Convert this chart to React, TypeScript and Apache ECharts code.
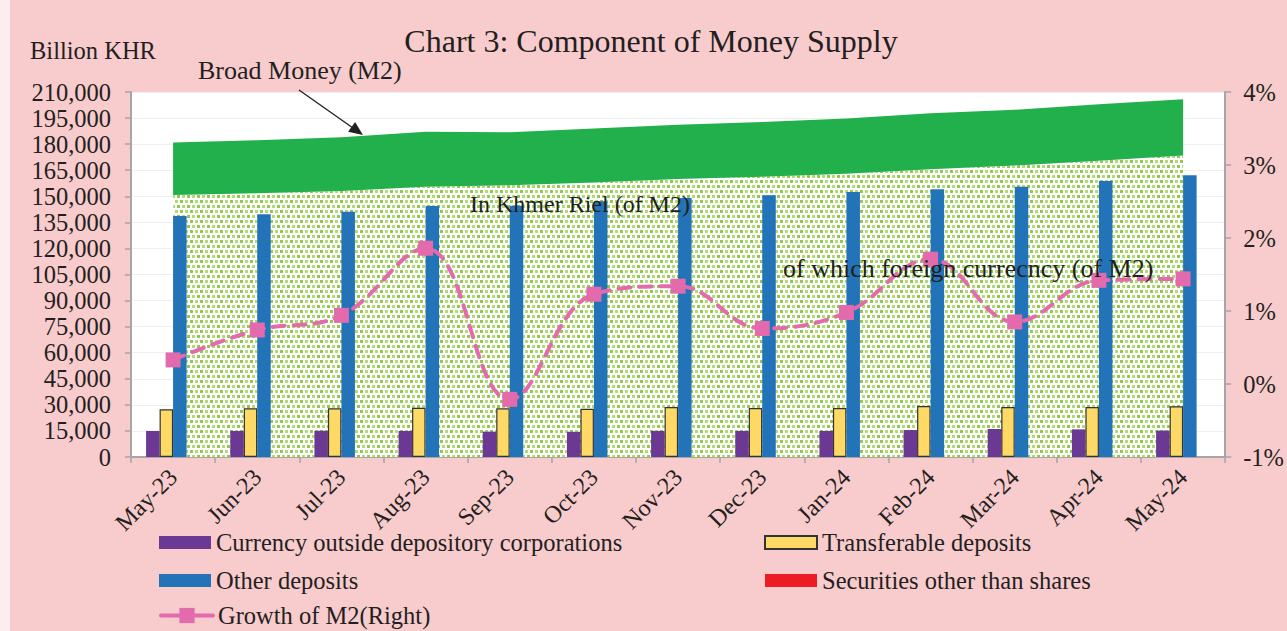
import React, { useEffect, useRef } from 'react';
import * as echarts from 'echarts';

const categories = ['May-23', 'Jun-23', 'Jul-23', 'Aug-23', 'Sep-23', 'Oct-23', 'Nov-23', 'Dec-23', 'Jan-24', 'Feb-24', 'Mar-24', 'Apr-24', 'May-24'];
const broadMoney = [181000, 182300, 184000, 187200, 186800, 189000, 191200, 192800, 194800, 197800, 199800, 203000, 205900];
const foreignCurrency = [150700, 151700, 153000, 155500, 156300, 158000, 160000, 161300, 163000, 165500, 167700, 170500, 173400];
const currencyOutside = [15000, 15000, 15100, 15000, 14600, 14500, 15000, 15000, 15000, 15500, 16100, 15900, 15200];
const transferable = [27500, 28000, 28000, 28300, 28000, 27700, 28800, 28200, 28200, 29300, 28800, 28800, 29200];
const otherDeposits = [138700, 139600, 141100, 144400, 144600, 147200, 149000, 150600, 152500, 154000, 155500, 158800, 162100];
const securities = [0, 0, 0, 0, 0, 0, 0, 0, 0, 0, 0, 0, 0];
const growthM2 = [0.33, 0.74, 0.94, 1.86, -0.21, 1.23, 1.34, 0.76, 0.98, 1.71, 0.85, 1.42, 1.44];
const khmerRiel = broadMoney.map((v, i) => v - foreignCurrency[i]);

const FONT = '"Liberation Serif", "Times New Roman", serif';
const TXT = '#231F20';
const AXIS = '#A6A6A6';
const PINK = '#E36BAD';

export default function App() {
  const ref = useRef<HTMLDivElement>(null);
  useEffect(() => {
    document.body.style.margin = '0';
    const chart = echarts.init(ref.current as HTMLDivElement, null, { renderer: 'svg' });

    const tile = document.createElement('canvas');
    tile.width = 10;
    tile.height = 10;
    const ctx = tile.getContext('2d') as CanvasRenderingContext2D;
    ctx.fillStyle = '#ffffff';
    ctx.fillRect(0, 0, 10, 10);
    ctx.fillStyle = '#92C94A';
    ctx.fillRect(0, 0, 3, 3);
    ctx.fillRect(7, 5, 3, 3);
    ctx.fillStyle = '#B2D97A';
    ctx.fillRect(5, 0, 3, 3);
    ctx.fillRect(2, 5, 3, 3);

    const barW = 13.5;
    const legendText = { fontSize: 24.5, fontFamily: FONT, color: TXT, lineHeight: 24 };

    chart.setOption({
      animation: false,
      backgroundColor: '#F8CBCD',
      grid: {
        left: 131,
        right: 61,
        top: 92,
        bottom: 174,
        show: true,
        backgroundColor: '#ffffff',
        borderWidth: 0,
      },
      legend: [
        {
          left: 159,
          top: 530,
          padding: 0,
          height: 80,
          orient: 'vertical',
          itemWidth: 52,
          itemHeight: 13,
          itemGap: 13,
          textStyle: legendText,
          data: [
            { name: 'Currency outside depository corporations', icon: 'rect' },
            { name: 'Other deposits', icon: 'rect' },
          ],
        },
        {
          left: 159,
          top: 603,
          padding: 0,
          orient: 'vertical',
          itemWidth: 52,
          itemHeight: 19,
          textStyle: legendText,
          data: [{ name: 'Growth of M2(Right)', lineStyle: { type: 'solid', width: 4 } }],
        },
        {
          left: 764,
          top: 530,
          padding: 0,
          height: 80,
          orient: 'vertical',
          itemWidth: 52,
          itemHeight: 13,
          itemGap: 13,
          textStyle: legendText,
          data: [
            { name: 'Transferable deposits', icon: 'rect' },
            { name: 'Securities other than shares', icon: 'rect' },
          ],
        },
      ],
      xAxis: {
        type: 'category',
        data: categories,
        boundaryGap: true,
        axisLine: { lineStyle: { color: AXIS, width: 2 } },
        axisTick: { show: true, alignWithLabel: false, interval: 0, length: 6, lineStyle: { color: AXIS, width: 1.5 } },
        axisLabel: { rotate: 45, margin: 16, interval: 0, fontSize: 24, fontFamily: FONT, color: TXT },
        splitLine: { show: false },
      },
      yAxis: [
        {
          type: 'value',
          min: 0,
          max: 210000,
          interval: 15000,
          axisLine: { show: true, lineStyle: { color: AXIS, width: 2 } },
          axisTick: { show: true, length: 6, lineStyle: { color: AXIS, width: 1.5 } },
          axisLabel: {
            margin: 20,
            fontSize: 24.5,
            fontFamily: FONT,
            color: TXT,
            formatter: (v: number) => v.toLocaleString('en-US'),
          },
          splitLine: { show: true, lineStyle: { color: '#F0F0F0', width: 1 } },
        },
        {
          type: 'value',
          min: -1,
          max: 4,
          interval: 1,
          position: 'right',
          axisLine: { show: true, lineStyle: { color: AXIS, width: 2 } },
          axisTick: { show: true, length: 6, lineStyle: { color: AXIS, width: 1.5 } },
          axisLabel: { margin: 18, fontSize: 24.5, fontFamily: FONT, color: TXT, formatter: '{value}%' },
          splitLine: { show: false },
        },
      ],
      series: [
        {
          name: 'Foreign currency (of M2)',
          type: 'line',
          stack: 'm2',
          data: foreignCurrency,
          symbol: 'none',
          lineStyle: { width: 0 },
          areaStyle: {
            color: { image: tile, repeat: 'repeat', imageWidth: 10, imageHeight: 10 } as any,
            opacity: 1,
          },
          z: 1,
        },
        {
          name: 'In Khmer Riel (of M2)',
          type: 'line',
          stack: 'm2',
          data: khmerRiel,
          symbol: 'none',
          lineStyle: { width: 0 },
          areaStyle: { color: '#21B04B', opacity: 1 },
          z: 1,
        },
        {
          name: 'Currency outside depository corporations',
          type: 'bar',
          data: currencyOutside,
          barWidth: barW,
          barGap: '0%',
          itemStyle: { color: '#6B3894' },
          z: 2,
        },
        {
          name: 'Transferable deposits',
          type: 'bar',
          data: transferable,
          barWidth: barW,
          barGap: '0%',
          itemStyle: { color: '#FFD966', borderColor: '#333333', borderWidth: 1.2 },
          z: 2,
        },
        {
          name: 'Other deposits',
          type: 'bar',
          data: otherDeposits,
          barWidth: barW,
          barGap: '0%',
          itemStyle: { color: '#2273B8' },
          z: 2,
        },
        {
          name: 'Securities other than shares',
          type: 'bar',
          data: securities,
          barWidth: barW,
          barGap: '0%',
          itemStyle: { color: '#ED1C24' },
          z: 2,
        },
        {
          name: 'Growth of M2(Right)',
          type: 'line',
          yAxisIndex: 1,
          data: growthM2,
          smooth: 0.4,
          symbol: 'rect',
          symbolSize: 15,
          itemStyle: { color: PINK },
          lineStyle: { color: PINK, width: 4, type: [12, 9], cap: 'round' },
          z: 3,
        },
      ],
      graphic: [
        {
          type: 'rect',
          shape: { x: 0, y: 0, width: 10, height: 631 },
          style: { fill: '#FCEDEE' },
          z: 0,
        },
        {
          type: 'text',
          style: { text: 'Chart 3: Component of Money Supply', x: 651, y: 41, align: 'center', verticalAlign: 'middle', fontSize: 32, fontFamily: FONT, fill: TXT },
          z: 10,
        },
        {
          type: 'text',
          style: { text: 'Billion KHR', x: 30, y: 50, align: 'left', verticalAlign: 'middle', fontSize: 24.5, fontFamily: FONT, fill: TXT },
          z: 10,
        },
        {
          type: 'text',
          style: { text: 'Broad Money (M2)', x: 198, y: 70, align: 'left', verticalAlign: 'middle', fontSize: 26, fontFamily: FONT, fill: TXT },
          z: 10,
        },
        {
          type: 'line',
          shape: { x1: 299, y1: 90, x2: 353, y2: 128 },
          style: { stroke: '#231F20', lineWidth: 1.3 },
          z: 10,
        },
        {
          type: 'polygon',
          shape: { points: [[363, 135], [348.1, 131.8], [355.1, 122.0]] },
          style: { fill: '#231F20' },
          z: 10,
        },
        {
          type: 'text',
          style: { text: 'In Khmer Riel (of M2)', x: 470, y: 204, align: 'left', verticalAlign: 'middle', fontSize: 24, fontFamily: FONT, fill: TXT },
          z: 10,
        },
        {
          type: 'text',
          style: { text: 'of which foreign currecncy (of M2)', x: 783, y: 268, align: 'left', verticalAlign: 'middle', fontSize: 26, fontFamily: FONT, fill: TXT },
          z: 10,
        },
      ],
    });

    return () => {
      chart.dispose();
    };
  }, []);

  return <div ref={ref} style={{ width: 1287, height: 631 }} />;
}
